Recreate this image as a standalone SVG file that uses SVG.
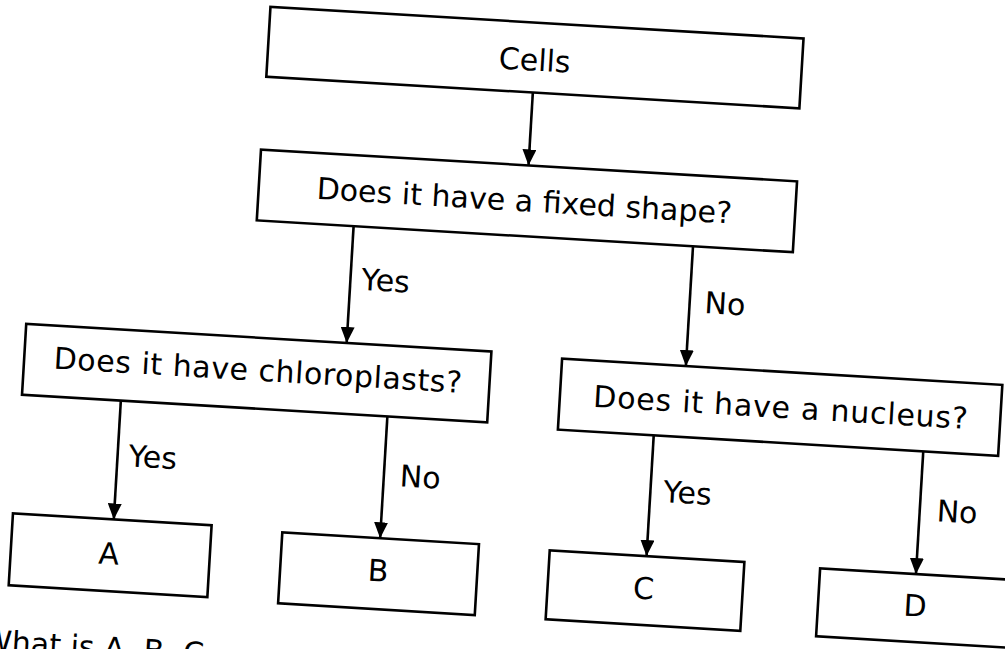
<svg xmlns="http://www.w3.org/2000/svg" width="1005" height="649" viewBox="0 0 1005 649">
<style>
.box{fill:#fff;stroke:#000;stroke-width:2.6}
.t{font-family:"DejaVu Sans","Liberation Sans",sans-serif;font-size:30px;fill:#000}
.c{text-anchor:middle}
.edge{stroke:#000;stroke-width:2.6;fill:none;marker-end:url(#ah)}
</style>
<defs>
<marker id="ah" markerUnits="userSpaceOnUse" markerWidth="16" markerHeight="14" viewBox="0 0 16 14" refX="16" refY="7" orient="auto">
<path d="M0,0 L16,7 L0,14 Z" fill="#000"/>
</marker>
</defs>
<rect width="1005" height="649" fill="#fff"/>
<g transform="rotate(3.4 500 325)">
<g id="connectors">
<line class="edge" x1="519" y1="91" x2="519" y2="164"/>
<line class="edge" x1="348" y1="235" x2="348" y2="352"/>
<line class="edge" x1="688" y1="235" x2="688" y2="355"/>
<line class="edge" x1="126" y1="423" x2="126" y2="542"/>
<line class="edge" x1="393" y1="423" x2="393" y2="545"/>
<line class="edge" x1="660" y1="426" x2="660" y2="547"/>
<line class="edge" x1="930" y1="426" x2="930" y2="549"/>
<text class="t" x="359" y="298">Yes</text>
<text class="t" x="703" y="301">No</text>
<text class="t" x="137" y="488">Yes</text>
<text class="t" x="409" y="492">No</text>
<text class="t" x="673" y="492">Yes</text>
<text class="t" x="947" y="495">No</text>
</g>
<g id="cells"><rect class="box" x="252" y="21" width="534" height="70"/><text class="t c" x="519" y="69">Cells</text></g>
<g id="fixed-shape"><rect class="box" x="251" y="164" width="537" height="71"/><text class="t c" x="517" y="210" textLength="416">Does it have a fixed shape?</text></g>
<g id="chloroplasts"><rect class="box" x="27" y="352" width="466" height="71"/><text class="t c" x="261" y="395" textLength="409">Does it have chloroplasts?</text></g>
<g id="nucleus"><rect class="box" x="564" y="355" width="441" height="71"/><text class="t c" x="785" y="401" textLength="375">Does it have a nucleus?</text></g>
<g id="A"><rect class="box" x="25" y="542" width="199" height="72"/><text class="t c" x="123" y="587">A</text></g>
<g id="B"><rect class="box" x="295" y="545" width="197" height="71"/><text class="t c" x="393" y="588">B</text></g>
<g id="C"><rect class="box" x="563" y="547" width="195" height="69"/><text class="t c" x="659" y="590">C</text></g>
<g id="D"><rect class="box" x="834" y="549" width="196" height="68"/><text class="t c" x="931" y="591">D</text></g>
<text class="t" x="2" y="681">What is A, B, C</text>
</g>
</svg>
